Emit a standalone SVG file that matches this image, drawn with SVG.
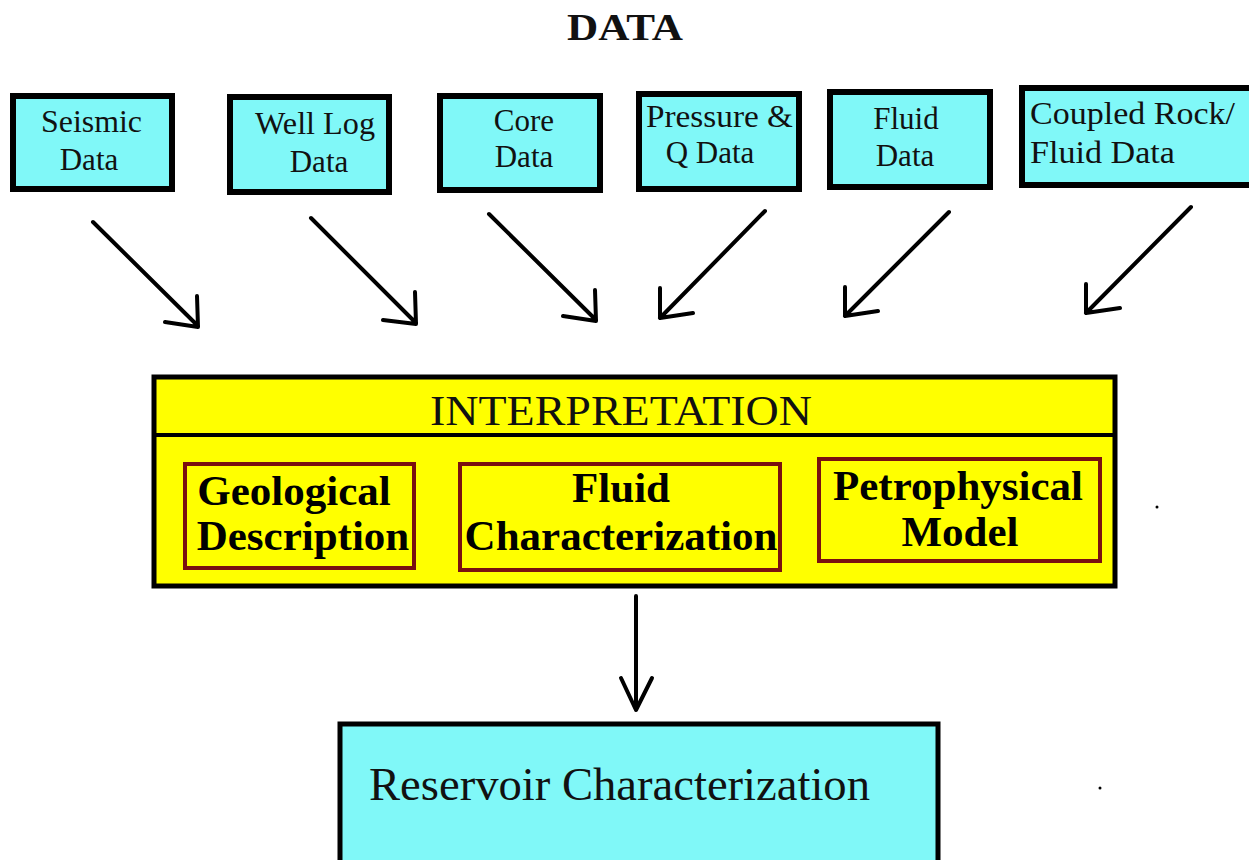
<svg xmlns="http://www.w3.org/2000/svg" width="1249" height="860" viewBox="0 0 1249 860">
<style>
.data{fill:#80F8F8;stroke:#000;stroke-width:6}
.dt{font-family:"Liberation Serif","Times New Roman",serif;font-size:31px;fill:#111}
.inner{fill:#FFFF00;stroke:#7A1010;stroke-width:4}
.it{font-family:"Liberation Serif","Times New Roman",serif;font-size:43px;font-weight:bold;fill:#000;text-anchor:middle}
.arr{fill:none;stroke:#000;stroke-width:4;stroke-linecap:round;stroke-linejoin:round}
</style>
<rect width="1249" height="860" fill="#fff"/>
<text x="567" y="40" textLength="116" lengthAdjust="spacingAndGlyphs" style="font-family:'Liberation Serif','Times New Roman',serif;font-size:38px;font-weight:bold;fill:#111">DATA</text>

<g id="seismic">
<rect class="data" x="13" y="96" width="159" height="93"/>
<text class="dt" x="41" y="132" textLength="101" lengthAdjust="spacingAndGlyphs">Seismic</text>
<text class="dt" x="89" y="170" text-anchor="middle">Data</text>
</g>
<g id="welllog">
<rect class="data" x="230" y="97" width="159" height="95"/>
<text class="dt" x="255" y="134" textLength="120" lengthAdjust="spacingAndGlyphs">Well Log</text>
<text class="dt" x="319" y="172" text-anchor="middle">Data</text>
</g>
<g id="core">
<rect class="data" x="440" y="96" width="160" height="94"/>
<text class="dt" x="524" y="131" text-anchor="middle">Core</text>
<text class="dt" x="524" y="167" text-anchor="middle">Data</text>
</g>
<g id="pressure">
<rect class="data" x="639" y="94" width="160" height="95"/>
<text class="dt" x="646" y="127" textLength="147" lengthAdjust="spacingAndGlyphs">Pressure &amp;</text>
<text class="dt" x="710" y="163" text-anchor="middle">Q Data</text>
</g>
<g id="fluid">
<rect class="data" x="830" y="92" width="160" height="95"/>
<text class="dt" x="906" y="129" text-anchor="middle">Fluid</text>
<text class="dt" x="905" y="166" text-anchor="middle">Data</text>
</g>
<g id="coupled">
<rect class="data" x="1022" y="88" width="240" height="97"/>
<text class="dt" x="1030" y="124" textLength="205" lengthAdjust="spacingAndGlyphs">Coupled Rock/</text>
<text class="dt" x="1030" y="163" textLength="145" lengthAdjust="spacingAndGlyphs">Fluid Data</text>
</g>

<g id="connectors">
<path class="arr" d="M93,222 L198,326 M197,296 L198,327 L165,322"/>
<path class="arr" d="M311,218 L416,323 M415,292 L416,324 L383,320"/>
<path class="arr" d="M489,214 L596,320 M595,290 L596,321 L563,316"/>
<path class="arr" d="M765,211 L660,318 M660,288 L660,318 L693,313"/>
<path class="arr" d="M949,212 L845,316 M845,287 L845,316 L878,311"/>
<path class="arr" d="M1191,207 L1086,313 M1086,284 L1086,313 L1120,308"/>
<path class="arr" d="M636,596 L636,710 M621,678 L636,710 L652,678"/>
</g>

<g id="interpretation">
<rect x="154" y="377" width="961" height="209" fill="#FFFF00" stroke="#000" stroke-width="5"/>
<line x1="154" y1="435" x2="1115" y2="435" stroke="#000" stroke-width="4"/>
<text x="430" y="425" textLength="382" lengthAdjust="spacingAndGlyphs" style="font-family:'Liberation Serif','Times New Roman',serif;font-size:42px;fill:#111">INTERPRETATION</text>
</g>
<g id="geological">
<rect class="inner" x="185" y="464" width="229" height="104"/>
<text class="it" x="294" y="505">Geological</text>
<text class="it" x="303" y="550">Description</text>
</g>
<g id="fluidchar">
<rect class="inner" x="460" y="464" width="320" height="106"/>
<text class="it" x="621" y="502">Fluid</text>
<text class="it" x="621" y="550">Characterization</text>
</g>
<g id="petro">
<rect class="inner" x="819" y="459" width="281" height="102"/>
<text class="it" x="958" y="500">Petrophysical</text>
<text class="it" x="960" y="546">Model</text>
</g>

<g id="reservoir">
<rect x="340" y="724" width="598" height="150" fill="#80F8F8" stroke="#000" stroke-width="5"/>
<text x="369" y="800" textLength="501" lengthAdjust="spacingAndGlyphs" style="font-family:'Liberation Serif','Times New Roman',serif;font-size:46px;fill:#111">Reservoir Characterization</text>
</g>
<circle cx="1157" cy="507" r="1.5" fill="#000"/>
<circle cx="1100" cy="788" r="1.5" fill="#000"/>
</svg>
